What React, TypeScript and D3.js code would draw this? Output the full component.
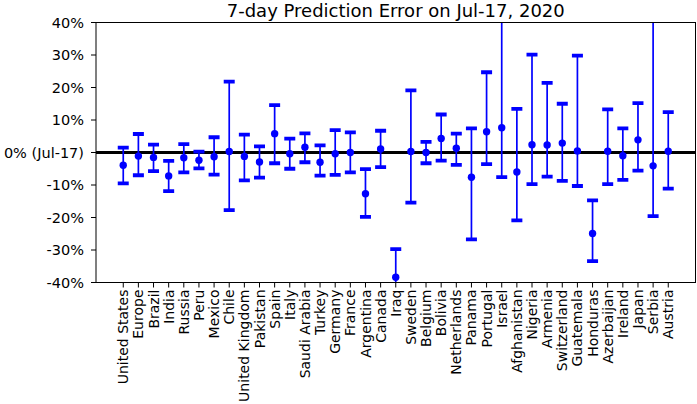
import React from "react";
import * as d3 from "d3";

const countries = ["United States","Europe","Brazil","India","Russia","Peru","Mexico","Chile","United Kingdom","Pakistan","Spain","Italy","Saudi Arabia","Turkey","Germany","France","Argentina","Canada","Iraq","Sweden","Belgium","Bolivia","Netherlands","Panama","Portugal","Israel","Afghanistan","Nigeria","Armenia","Switzerland","Guatemala","Honduras","Azerbaijan","Ireland","Japan","Serbia","Austria"];
const midValues = [-3.9,-1.1,-1.5,-7.2,-1.6,-2.4,-1.3,0.3,-1.2,-2.9,5.8,-0.4,1.6,-3.0,-0.4,0.0,-12.7,1.1,-38.4,0.3,0.0,4.3,1.3,-7.6,6.4,7.6,-6.0,2.4,2.3,2.9,0.5,-24.9,0.4,-1.0,3.9,-4.1,0.4];
const lowValues = [-9.5,-7.0,-5.7,-11.9,-6.1,-4.9,-6.8,-17.7,-8.6,-7.7,-3.3,-5.0,-3.0,-7.1,-6.9,-6.1,-19.8,-4.5,-48,-15.4,-3.3,-2.5,-3.8,-26.7,-3.6,-7.6,-20.9,-9.7,-7.4,-8.7,-10.3,-33.4,-9.7,-8.4,-5.6,-19.6,-11.1];
const highValues = [1.5,5.7,2.4,-2.6,2.6,0.3,4.7,21.8,5.5,1.9,14.6,4.3,5.9,2.2,6.9,6.2,-5.1,6.7,-29.7,19.1,3.3,11.7,5.8,7.4,24.7,48,13.4,30.1,21.4,15.0,29.8,-14.7,13.3,7.4,15.2,55,12.4];
const yTickValues = [-40,-30,-20,-10,0,10,20,30,40];
const yTickLabels = ["-40%","-30%","-20%","-10%","0% (Jul-17)","10%","20%","30%","40%"];
const title = "7-day Prediction Error on Jul-17, 2020";

const W = 697, H = 404;
const L = 96, R = 695.5, T = 22.5, B = 282.5;
const FONT = "'DejaVu Sans', sans-serif";

export default function App() {
  const n = countries.length;
  const margin = (n - 1) * 0.05;
  const x = d3.scaleLinear().domain([-margin, n - 1 + margin]).range([L, R]);
  const y = d3.scaleLinear().domain([-40, 40]).range([B, T]);
  const blue = "#0000ff";
  return (
    <svg width={W} height={H} style={{ position: "absolute", left: 0, top: 0, display: "block", background: "#fff" }}>
      <defs>
        <clipPath id="plotclip">
          <rect x={L} y={T} width={R - L} height={B - T} />
        </clipPath>
      </defs>
      <rect x={0} y={0} width={W} height={H} fill="#fff" />
      <text x={(L + R) / 2} y={17} textAnchor="middle" fontFamily={FONT} fontSize={18} fill="#000">{title}</text>
      <g clipPath="url(#plotclip)">
        <line x1={L} x2={R} y1={y(0)} y2={y(0)} stroke="#000" strokeWidth={3} />
        {countries.map((c, i) => {
          const cx = x(i);
          return (
            <g key={c}>
              <line x1={cx} x2={cx} y1={y(lowValues[i])} y2={y(highValues[i])} stroke={blue} strokeWidth={1.7} />
              <line x1={cx - 5.5} x2={cx + 5.5} y1={y(lowValues[i])} y2={y(lowValues[i])} stroke={blue} strokeWidth={3.8} />
              <line x1={cx - 5.5} x2={cx + 5.5} y1={y(highValues[i])} y2={y(highValues[i])} stroke={blue} strokeWidth={3.8} />
              <circle cx={cx} cy={y(midValues[i])} r={3.7} fill={blue} />
            </g>
          );
        })}
      </g>
      <rect x={L} y={T} width={R - L} height={B - T} fill="none" stroke="#000" strokeWidth={1} />
      {yTickValues.map((v, i) => (
        <g key={v}>
          <line x1={L - 5} x2={L} y1={y(v)} y2={y(v)} stroke="#000" strokeWidth={1} />
          <text x={L - 12} y={y(v)} dy="0.36em" textAnchor="end" fontFamily={FONT} fontSize={14.5} fill="#000">{yTickLabels[i]}</text>
        </g>
      ))}
      {countries.map((c, i) => (
        <g key={"xt" + c}>
          <line x1={x(i)} x2={x(i)} y1={B} y2={B + 5} stroke="#000" strokeWidth={1} />
          <text transform={`translate(${x(i)},${B + 7}) rotate(-90)`} dy="0.36em" textAnchor="end" fontFamily={FONT} fontSize={14} fill="#000">{c}</text>
        </g>
      ))}
    </svg>
  );
}
